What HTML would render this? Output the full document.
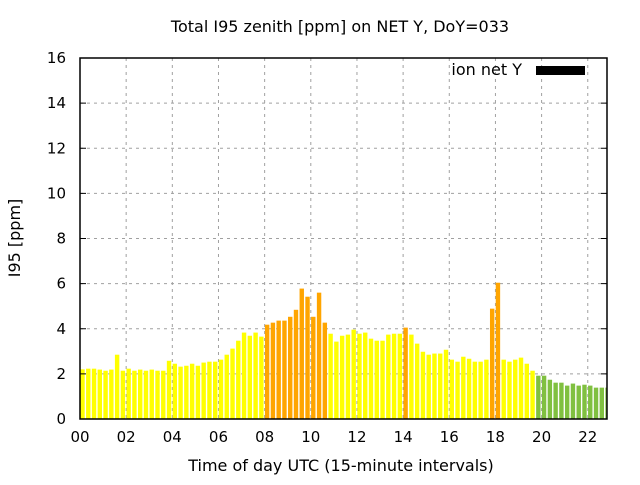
<!DOCTYPE html>
<html><head><meta charset="utf-8"><style>
body{margin:0;background:#fff;}
svg text{font-family:"DejaVu Sans","Liberation Sans",sans-serif;font-size:15px;fill:#000;}
svg text.big{font-size:16px;}
</style></head><body>
<svg id="chart" width="640" height="480" xmlns="http://www.w3.org/2000/svg">
<rect width="640" height="480" fill="#fff"/>
<text class="big" x="340" y="32" text-anchor="middle">Total I95 zenith [ppm] on NET Y, DoY=033</text>
<text class="big" x="20" y="238" text-anchor="middle" transform="rotate(-90 20 238)">I95 [ppm]</text>
<text class="big" x="341" y="471" text-anchor="middle">Time of day UTC (15-minute intervals)</text>
<g id="grid"></g><g id="bars"></g><g id="axes"></g>
<text class="big" x="522" y="75" text-anchor="end">ion net Y</text>
<rect x="536" y="66" width="49" height="9" fill="#000"/>
</svg>
<script>
const values=[2.2,2.23,2.23,2.19,2.14,2.19,2.85,2.14,2.23,2.14,2.19,2.14,2.19,2.14,2.14,2.58,2.45,2.32,2.36,2.45,2.36,2.5,2.54,2.54,2.63,2.85,3.12,3.47,3.83,3.69,
3.83,3.65,4.18,4.27,4.36,4.36,4.53,4.84,5.78,5.42,4.53,5.6,4.27,3.78,3.43,3.69,3.74,3.96,3.78,3.83,3.56,3.47,3.47,3.74,3.78,3.78,4.05,3.74,3.34,2.98,
2.85,2.9,2.9,3.07,2.63,2.54,2.76,2.67,2.54,2.54,2.63,4.89,6.04,2.63,2.54,2.63,2.72,2.45,2.14,1.92,1.92,1.74,1.61,1.61,1.48,1.57,1.48,1.52,1.48,1.39,1.39,1.39];
const yTicks=[0,2,4,6,8,10,12,14,16];
const xTickLabels=["00","02","04","06","08","10","12","14","16","18","20","22"];
const greenFrom=79;
const NS="http://www.w3.org/2000/svg";
const L=80,R=607,T=58,B=419,slot=5.77;
const X=i=>L+i*slot, Y=v=>B-(v/16)*(B-T);
function mk(t,a,p){const e=document.createElementNS(NS,t);for(const k in a)e.setAttribute(k,a[k]);p.appendChild(e);return e;}
const g=document.getElementById('grid'),b=document.getElementById('bars'),ax=document.getElementById('axes');
yTicks.forEach(v=>{
 if(v>0&&v<16){const l=mk('line',{x1:L,x2:R,y1:Y(v),y2:Y(v),stroke:'#a0a0a0','stroke-dasharray':'3,4'},g);
 
 }
 const t=mk('text',{x:L-14,y:Y(v)+5,'text-anchor':'end'},ax);t.textContent=v;
 
 
 mk('line',{x1:L,x2:L+6,y1:Y(v),y2:Y(v),stroke:'#000'},ax);
 mk('line',{x1:R,x2:R-6,y1:Y(v),y2:Y(v),stroke:'#000'},ax);
});
xTickLabels.forEach((s,k)=>{
 const x=X(k*8);
 if(k>0){const l=mk('line',{x1:x,x2:x,y1:T,y2:B,stroke:'#a0a0a0','stroke-dasharray':'3,4'},g);
 
 }
 const t=mk('text',{x:x,y:442,'text-anchor':'middle'},ax);t.textContent=s;
 
 
});
values.forEach((v,i)=>{
 const x=X(i)+0.3,w=Math.min(4.4,R-x);
 const c=v>=4?'#ffa500':(i>=greenFrom?'#80c040':'#ffff00');
 const r=mk('rect',{x:x,y:Y(v),width:w,height:B-Y(v),fill:c},b);
 
 
});
const f=mk('rect',{x:L,y:T,width:R-L,height:B-T,fill:'none',stroke:'#000','stroke-width':1.5},ax);


</script>
</body></html>
